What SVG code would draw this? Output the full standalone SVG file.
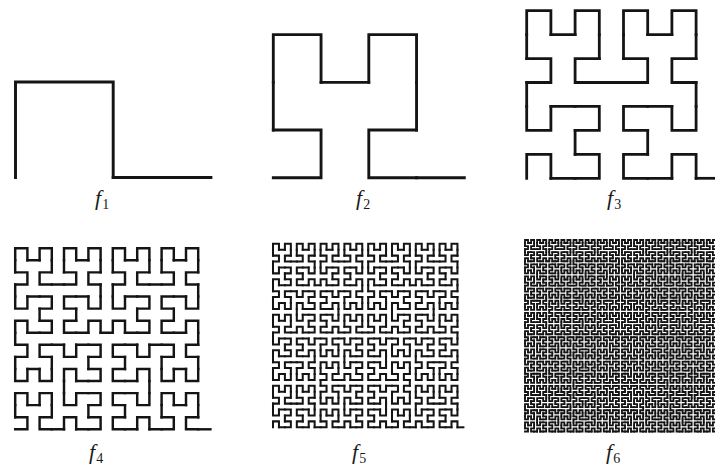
<svg xmlns="http://www.w3.org/2000/svg" xmlns:xlink="http://www.w3.org/1999/xlink" width="715" height="471" viewBox="0 0 715 471">
<style>
.curve{fill:none;stroke:#141414;stroke-linecap:square;stroke-linejoin:miter}
.lbl{font-family:"Liberation Serif","Times New Roman",serif;fill:#1a1a1a}
.f{font-style:italic;font-size:22px}
.sub{font-size:14px}
</style>
<defs>
<path id="h1" d="M0,0V1H1V0"/>
<g id="h2"><use href="#h1" transform="matrix(0,1,1,0,0,0)"/><use href="#h1" transform="translate(0,2)"/><use href="#h1" transform="translate(2,2)"/><use href="#h1" transform="matrix(0,-1,-1,0,3,1)"/><path d="M0,1V2M1,2H2M3,2V1"/></g>
<g id="h3"><use href="#h2" transform="matrix(0,1,1,0,0,0)"/><use href="#h2" transform="translate(0,4)"/><use href="#h2" transform="translate(4,4)"/><use href="#h2" transform="matrix(0,-1,-1,0,7,3)"/><path d="M0,3V4M3,4H4M7,4V3"/></g>
<g id="h4"><use href="#h3" transform="matrix(0,1,1,0,0,0)"/><use href="#h3" transform="translate(0,8)"/><use href="#h3" transform="translate(8,8)"/><use href="#h3" transform="matrix(0,-1,-1,0,15,7)"/><path d="M0,7V8M7,8H8M15,8V7"/></g>
<g id="h5"><use href="#h4" transform="matrix(0,1,1,0,0,0)"/><use href="#h4" transform="translate(0,16)"/><use href="#h4" transform="translate(16,16)"/><use href="#h4" transform="matrix(0,-1,-1,0,31,15)"/><path d="M0,15V16M15,16H16M31,16V15"/></g>
<g id="h6"><use href="#h5" transform="matrix(0,1,1,0,0,0)"/><use href="#h5" transform="translate(0,32)"/><use href="#h5" transform="translate(32,32)"/><use href="#h5" transform="matrix(0,-1,-1,0,63,31)"/><path d="M0,31V32M31,32H32M63,32V31"/></g>
</defs>
<rect width="715" height="471" fill="#ffffff"/>
<g id="fig1">
<g class="curve" transform="translate(15.5,177.5) scale(97.7,-95.5)" stroke-width="0.03"><use href="#h1"/><path d="M1,0H2"/></g>
<text class="lbl" x="95" y="205"><tspan class="f">f</tspan><tspan class="sub" dx="1" dy="4">1</tspan></text>
</g>
<g id="fig2">
<g class="curve" transform="translate(273.3,177.7) scale(47.75,-47.67)" stroke-width="0.06"><use href="#h2"/><path d="M3,0H4"/></g>
<text class="lbl" x="356" y="205"><tspan class="f">f</tspan><tspan class="sub" dx="1" dy="4">2</tspan></text>
</g>
<g id="fig3">
<g class="curve" transform="translate(526.7,178.3) scale(24.2,-23.95)" stroke-width="0.115"><use href="#h3"/><path d="M7,0H8"/></g>
<text class="lbl" x="607" y="205"><tspan class="f">f</tspan><tspan class="sub" dx="1" dy="4">3</tspan></text>
</g>
<g id="fig4">
<g class="curve" transform="translate(15.2,429.3) scale(12.2,-12.07)" stroke-width="0.2"><use href="#h4"/><path d="M15,0H16"/></g>
<text class="lbl" x="89" y="459"><tspan class="f">f</tspan><tspan class="sub" dx="1" dy="4">4</tspan></text>
</g>
<g id="fig5">
<g class="curve" transform="translate(273,427.3) scale(5.95,-5.92)" stroke-width="0.34"><use href="#h5"/><path d="M31,0H32"/></g>
<text class="lbl" x="352" y="459"><tspan class="f">f</tspan><tspan class="sub" dx="1" dy="4">5</tspan></text>
</g>
<g id="fig6">
<g class="curve" transform="translate(525,431.5) scale(3.03,-3.04)" stroke-width="0.6"><use href="#h6"/><path d="M63,0H64"/></g>
<text class="lbl" x="606" y="459"><tspan class="f">f</tspan><tspan class="sub" dx="1" dy="4">6</tspan></text>
</g>
</svg>
